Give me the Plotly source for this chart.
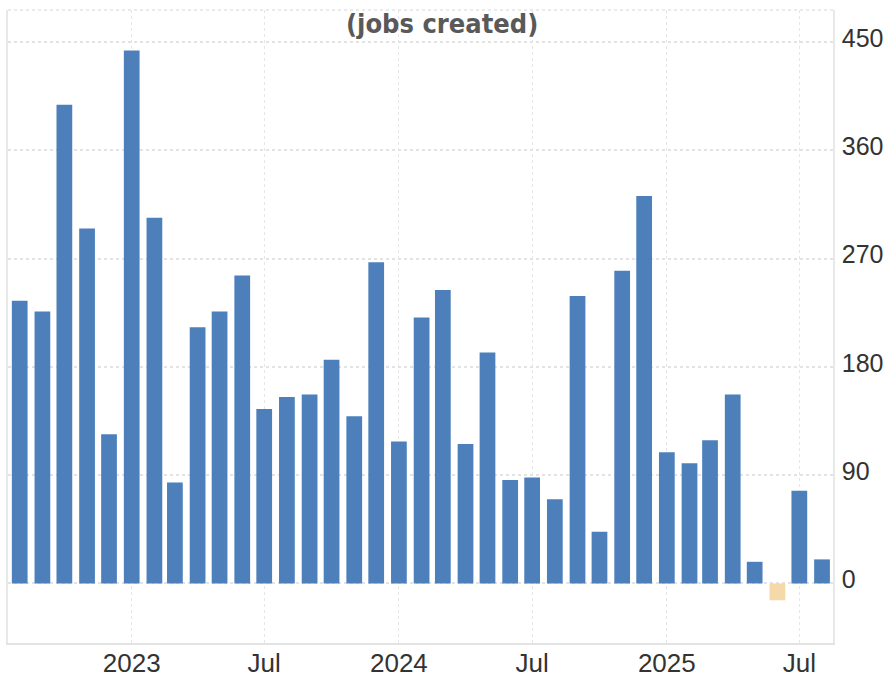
import plotly.graph_objects as go

months = [
    "2022-08-01", "2022-09-01", "2022-10-01", "2022-11-01", "2022-12-01",
    "2023-01-01", "2023-02-01", "2023-03-01", "2023-04-01", "2023-05-01", "2023-06-01",
    "2023-07-01", "2023-08-01", "2023-09-01", "2023-10-01", "2023-11-01", "2023-12-01",
    "2024-01-01", "2024-02-01", "2024-03-01", "2024-04-01", "2024-05-01", "2024-06-01",
    "2024-07-01", "2024-08-01", "2024-09-01", "2024-10-01", "2024-11-01", "2024-12-01",
    "2025-01-01", "2025-02-01", "2025-03-01", "2025-04-01", "2025-05-01", "2025-06-01",
    "2025-07-01", "2025-08-01",
]
jobs = [
    235, 226, 398, 295, 124,
    443, 304, 84, 213, 226, 256,
    145, 155, 157, 186, 139, 267,
    118, 221, 244, 116, 192, 86,
    88, 70, 239, 43, 260, 322,
    109, 100, 119, 157, 18, -14,
    77, 20,
]

tick_vals = ["2023-01-01", "2023-07-01", "2024-01-01", "2024-07-01", "2025-01-01", "2025-07-01"]
tick_text = ["2023", "Jul", "2024", "Jul", "2025", "Jul"]
y_ticks = [0, 90, 180, 270, 360, 450]

title_text = "(jobs created)"

colors = ["#4d7fbb" if v >= 0 else "#f5d9a8" for v in jobs]
bar_width_ms = 21.5 * 86400000

fig = go.Figure(
    go.Bar(
        x=months,
        y=jobs,
        marker=dict(color=colors, line=dict(width=0)),
        width=[bar_width_ms] * len(months),
    )
)

fig.update_layout(
    width=887,
    height=679,
    margin=dict(l=8, r=54, t=10, b=36, autoexpand=False),
    paper_bgcolor="white",
    plot_bgcolor="white",
    showlegend=False,
    font=dict(family="Liberation Sans, Arial, sans-serif", color="#333333"),
)

fig.update_xaxes(
    type="date",
    range=["2022-07-16", "2025-08-16"],
    tickvals=tick_vals,
    ticktext=tick_text,
    tickfont=dict(size=26, color="#333333"),
    showgrid=True,
    gridcolor="#e6e6e6",
    griddash="dot",
    gridwidth=1,
    showline=True,
    linecolor="#e3e3e3",
    linewidth=1.5,
    ticks="",
    zeroline=False,
    automargin=False,
    ticklabelstandoff=-4,
)

fig.update_yaxes(
    side="right",
    range=[-49.5, 476.7],
    tickvals=y_ticks,
    tickfont=dict(size=25, color="#333333"),
    showgrid=True,
    gridcolor="#e3e3e3",
    griddash="dot",
    gridwidth=1.5,
    showline=True,
    mirror=True,
    linecolor="#e8e8e8",
    linewidth=1.5,
    ticks="",
    zeroline=False,
    automargin=False,
    ticklabelstandoff=2,
    ticklabelshift=-4,
)

fig.add_shape(
    type="line", xref="paper", yref="paper", x0=0, x1=1, y0=1, y1=1,
    line=dict(color="#e3e3e3", width=1.5, dash="dot"), layer="below",
)

fig.add_annotation(
    text="<b>" + title_text + "</b>",
    xref="paper", yref="paper",
    x=0.526, y=0.979, xanchor="center", yanchor="middle",
    showarrow=False,
    font=dict(family="DejaVu Sans Condensed, DejaVu Sans, sans-serif", size=27, color="#595959"),
)

fig.write_html(
    "out.html",
    config={"displayModeBar": False},
    post_script="document.body.style.margin='0';document.body.style.overflow='hidden';",
)
